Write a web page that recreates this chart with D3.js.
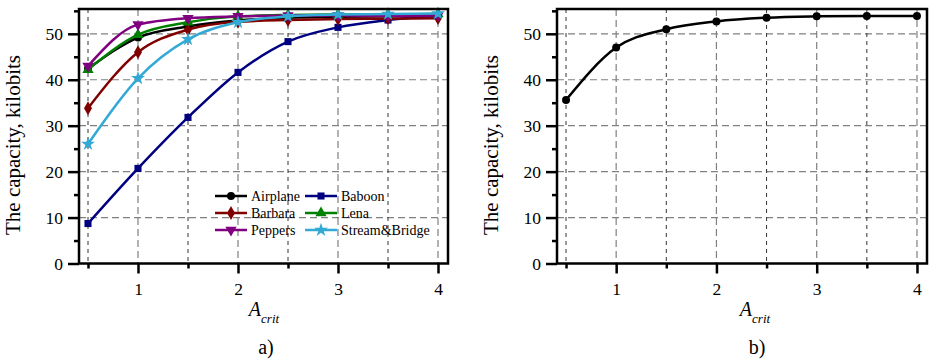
<!DOCTYPE html>
<html>
<head>
<meta charset="utf-8">
<script src="https://cdn.jsdelivr.net/npm/d3@7"></script>
<style>
  body { margin: 0; background: #fff; }
  svg text { font-family: "Liberation Serif", "Tinos", "Times New Roman", Times, "DejaVu Serif", serif; }
</style>
</head>
<body>
<div id="chart"></div>
<script>
// data
const aCrit = [0.5, 1, 1.5, 2, 2.5, 3, 3.5, 4];
const airplane = [42.4, 49.2, 51.6, 52.9, 53.5, 53.7, 53.8, 53.9];
const baboon = [8.7, 20.7, 31.8, 41.6, 48.3, 51.4, 53.0, 54.0];
const barbara = [33.8, 46.0, 50.9, 52.6, 53.0, 53.2, 53.3, 53.4];
const lena = [42.2, 49.8, 52.5, 53.8, 54.1, 54.2, 54.2, 54.3];
const peppers = [43.0, 52.0, 53.4, 53.8, 54.0, 54.0, 53.9, 54.0];
const streamBridge = [26.0, 40.3, 48.8, 52.5, 53.8, 54.2, 54.3, 54.4];
const average = [35.6, 47.0, 51.0, 52.7, 53.5, 53.8, 53.9, 53.9];

const seriesNames = ['Airplane', 'Baboon', 'Barbara', 'Lena', 'Peppers', 'Stream&Bridge'];
const seriesValues = [airplane, baboon, barbara, lena, peppers, streamBridge];
const seriesColors = ['#000000', '#000080', '#800000', '#008000', '#800080', '#33a9d5'];
const seriesSymbols = ['circle', 'square', 'diamond', 'triangle', 'triangleDown', 'star'];

const xMajor = [1, 2, 3, 4];
const xMinor = [0.5, 1.5, 2.5, 3.5];
const yMajor = [0, 10, 20, 30, 40, 50];
const yMinor = [5, 15, 25, 35, 45, 55];

const svgWidth = 929;
const svgHeight = 363;
const serif = '"Liberation Serif", "Tinos", "Times New Roman", Times, "DejaVu Serif", serif';

let svg = d3.select('#chart').append('svg')
  .attr('width', svgWidth)
  .attr('height', svgHeight);

// marker shapes
function symbolPath(kind) {
  let types = {
    circle: [d3.symbolCircle, 50],
    square: [d3.symbolSquare, 50],
    diamond: [d3.symbolDiamond, 55],
    triangle: [d3.symbolTriangle, 55],
    triangleDown: [d3.symbolTriangle, 55],
    star: [d3.symbolStar, 60]
  };
  let t = types[kind];
  return d3.symbol().type(t[0]).size(t[1])();
}

function drawPanel(left, right, series, labelX, letter) {
  let x = d3.scaleLinear().domain([0.41, 4.1]).range([left, right]);
  let y = d3.scaleLinear().domain([0, 55.4]).range([263.5, 9]);
  let top = y.range()[1], bottom = y.range()[0];

  let g = svg.append('g');

  // grid
  g.selectAll('.hgrid').data(yMajor.filter(d => d > 0))
    .enter().append('line')
    .attr('x1', left).attr('x2', right)
    .attr('y1', d => y(d)).attr('y2', d => y(d))
    .attr('stroke', '#808080').attr('stroke-width', 1.2)
    .attr('stroke-dasharray', '7,4');
  g.selectAll('.vgrid').data(xMajor)
    .enter().append('line')
    .attr('x1', d => x(d)).attr('x2', d => x(d))
    .attr('y1', top).attr('y2', bottom)
    .attr('stroke', '#808080').attr('stroke-width', 1.2)
    .attr('stroke-dasharray', '7,4');
  g.selectAll('.vgridm').data(xMinor)
    .enter().append('line')
    .attr('x1', d => x(d)).attr('x2', d => x(d))
    .attr('y1', top).attr('y2', bottom)
    .attr('stroke', '#333').attr('stroke-width', 1)
    .attr('stroke-dasharray', '4,4');

  // axes
  let xAxis = g.append('g')
    .attr('transform', `translate(0, ${bottom})`)
    .call(d3.axisBottom(x).tickValues(xMajor).tickSize(10).tickSizeOuter(0).tickPadding(9).tickFormat(d3.format('d')));
  let xAxisMinor = g.append('g')
    .attr('transform', `translate(0, ${bottom})`)
    .call(d3.axisBottom(x).tickValues(xMinor).tickSize(5).tickSizeOuter(0).tickFormat(''));
  let yAxis = g.append('g')
    .attr('transform', `translate(${left}, 0)`)
    .call(d3.axisLeft(y).tickValues(yMajor).tickSize(11).tickSizeOuter(0).tickPadding(5));
  let yAxisMinor = g.append('g')
    .attr('transform', `translate(${left}, 0)`)
    .call(d3.axisLeft(y).tickValues(yMinor).tickSize(5).tickSizeOuter(0).tickFormat(''));
  [xAxis, xAxisMinor, yAxis, yAxisMinor].forEach(a => {
    a.attr('font-family', serif);
    a.select('.domain').remove();
    a.selectAll('line').attr('stroke', '#000').attr('stroke-width', 2.5);
    a.selectAll('text').attr('font-size', '17.5px').attr('fill', '#000');
  });

  // lines and markers
  let line = d3.line()
    .x((d, i) => x(aCrit[i]))
    .y(d => y(d))
    .curve(d3.curveMonotoneX);

  series.forEach(s => {
    g.append('path')
      .datum(s.values)
      .attr('d', line)
      .attr('fill', 'none')
      .attr('stroke', s.color)
      .attr('stroke-width', 2.5);
    g.selectAll(null).data(s.values)
      .enter().append('path')
      .attr('d', symbolPath(s.symbol))
      .attr('transform', (d, i) => `translate(${x(aCrit[i])}, ${y(d)})` + (s.symbol === 'triangleDown' ? ' rotate(180)' : ''))
      .attr('fill', s.color);
  });

  // frame
  g.append('rect')
    .attr('x', left).attr('y', top)
    .attr('width', right - left).attr('height', bottom - top)
    .attr('fill', 'none').attr('stroke', '#000').attr('stroke-width', 2.5);

  // axis titles
  g.append('text')
    .attr('transform', `translate(${left - 59}, 145) rotate(-90)`)
    .attr('text-anchor', 'middle')
    .attr('font-size', '21px')
    .text('The capacity, kilobits');

  let xt = g.append('text')
    .attr('x', labelX).attr('y', 316)
    .attr('text-anchor', 'middle')
    .attr('font-style', 'italic')
    .attr('font-size', '20px');
  xt.append('tspan').text('A');
  xt.append('tspan').attr('dy', 7).attr('font-size', '13px').text('crit');

  g.append('text')
    .attr('x', labelX + 2).attr('y', 354)
    .attr('text-anchor', 'middle')
    .attr('font-size', '20px')
    .text(letter);

  return { x: x, y: y, g: g };
}

// panel a
let panelA = seriesNames.map((n, i) => ({
  name: n, values: seriesValues[i], color: seriesColors[i], symbol: seriesSymbols[i]
}));
let pa = drawPanel(79, 448, panelA, 264, 'a)');

// legend
let legend = pa.g.append('g');
panelA.forEach((s, i) => {
  let col = i % 2, row = Math.floor(i / 2);
  let lx = 215 + col * 90, ly = 196 + row * 17;
  let item = legend.append('g').attr('transform', `translate(${lx}, ${ly})`);
  item.append('line')
    .attr('x1', 0).attr('x2', 32)
    .attr('stroke', s.color).attr('stroke-width', 2.5);
  item.append('path')
    .attr('d', symbolPath(s.symbol))
    .attr('transform', 'translate(16, 0)' + (s.symbol === 'triangleDown' ? ' rotate(180)' : ''))
    .attr('fill', s.color);
  item.append('text')
    .attr('x', 36).attr('y', 5)
    .attr('font-size', '14px')
    .text(s.name);
});

// panel b
drawPanel(557, 927, [{ name: 'average', values: average, color: '#000', symbol: 'circle' }], 755, 'b)');
</script>
</body>
</html>
